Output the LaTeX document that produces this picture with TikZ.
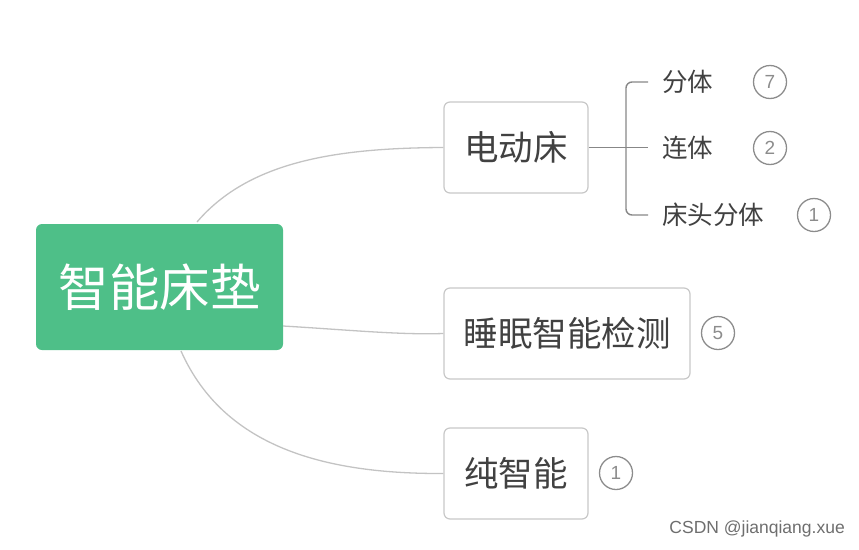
\documentclass[tikz,border=0pt]{standalone}
\usepackage{fontspec}
\setmainfont{Noto Sans CJK SC}
\newfontfamily\latinsans{Liberation Sans}
\definecolor{rootgreen}{RGB}{78,191,136}
\definecolor{boxborder}{RGB}{200,200,200}
\definecolor{curvegray}{RGB}{195,195,195}
\definecolor{bracketgray}{RGB}{135,135,135}
\definecolor{txtdark}{RGB}{65,65,65}
\definecolor{badgegray}{RGB}{140,140,140}
\definecolor{wmgray}{RGB}{110,110,110}
\tikzset{
  rootbox/.style={fill=rootgreen, rounded corners=6pt, minimum width=247pt, minimum height=126pt, text=white, font=\fontsize{50.5}{53}\selectfont, inner sep=0pt},
  subbox/.style={draw=boxborder, line width=1.2pt, fill=white, rounded corners=6pt, minimum height=91pt, text=txtdark, font=\fontsize{34.5}{37}\selectfont, inner sep=0pt},
  leaf/.style={text=txtdark, font=\fontsize{25.5}{28}\selectfont, inner sep=0pt, anchor=west},
  badge/.style={circle, draw=badgegray, line width=1.3pt, minimum size=33pt, inner sep=0pt, text=badgegray, font=\latinsans\fontsize{19}{20}\selectfont},
  curve/.style={draw=curvegray, line width=1.3pt},
  bracket/.style={draw=bracketgray, line width=1.4pt}
}
\begin{document}
\begin{tikzpicture}[x=1pt,y=-1pt]
\useasboundingbox (0,0) rectangle (859,549);
% curves
\coordinate (c1s) at (197,222);
\coordinate (c3s) at (181,351);
\coordinate (c2s) at (283,326);
\node[subbox, minimum width=144pt] (edb) at (516,147.5) {电动床};
\node[subbox, minimum width=246pt] (smj) at (567,333.5) {睡眠智能检测};
\node[subbox, minimum width=144pt] (czn) at (516,473.5) {纯智能};
\draw[curve] (c1s) .. controls (250,160) and (340,148) .. (edb.west);
\draw[curve] (c2s) .. controls (350,330) and (400,335) .. (smj.west);
\draw[curve] (c3s) .. controls (225,450) and (330,474) .. (czn.west);
\node[rootbox] (root) at (159.5,287) {智能床垫};
% leaves
\node[leaf] (fenti) at (662,82) {分体};
\node[leaf] (lianti) at (662,148) {连体};
\node[leaf] (ctft) at (662,215) {床头分体};
\coordinate (bj) at (626,147.5);
\coordinate (bend) at (648,147.5);
\draw[bracket] (edb.east) -- (bj) -- (bend);
\draw[bracket, rounded corners=6pt] ([xshift=-14pt]fenti.west) -- (626,82) -- (626,215) -- ([xshift=-14pt]ctft.west);
% badges
\node[badge] (b1) at (770,82) {7};
\node[badge] (b2) at (770,148) {2};
\node[badge] (b3) at (814,215) {1};
\node[badge] (b4) at (718,333) {5};
\node[badge] (b5) at (616,473) {1};
% watermark
\node[text=wmgray, font=\latinsans\fontsize{17.5}{19}\selectfont, anchor=east, inner sep=0pt] (wm) at (845,529) {CSDN @jianqiang.xue};
\end{tikzpicture}
\end{document}
